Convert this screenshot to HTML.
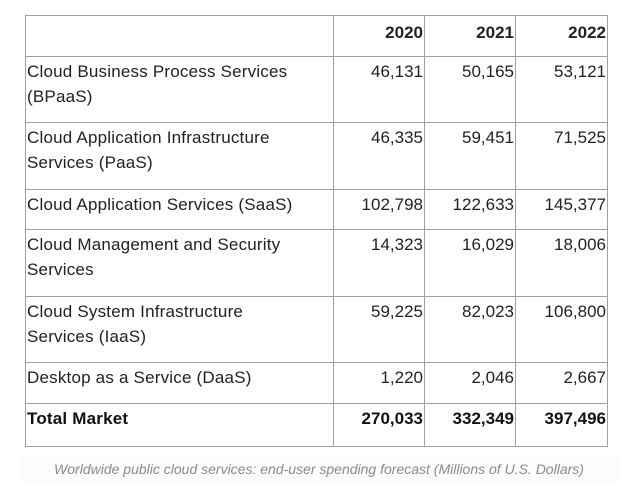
<!DOCTYPE html>
<html><head><meta charset="utf-8"><style>
body{margin:0;width:624px;height:488px;background:#fff;font-family:"Liberation Sans",sans-serif;overflow:hidden;position:relative}
table{position:absolute;left:25px;top:15px;border-collapse:collapse;width:582px;table-layout:fixed}
td{border:1px solid #a0a0a0;vertical-align:top;font-size:17px;letter-spacing:0.2px;color:#222;line-height:25px;padding:2px 1px 0 1px;white-space:nowrap}
td.n{text-align:right;padding-right:1px;letter-spacing:0}
tr.h td{font-weight:bold;font-size:17px;text-align:right;padding-top:4px;letter-spacing:0}
tr.t td{font-weight:bold;font-size:17px;color:#111}
.cap{position:absolute;left:20px;top:456px;width:598px;height:26px;text-align:center;font-style:italic;font-size:14px;color:#8a8a8a;line-height:26px;background:#fcfcfc}
</style></head><body>
<table>
<colgroup><col style="width:308px"><col style="width:91px"><col style="width:91px"><col style="width:92px"></colgroup>
<tr class="h" style="height:41px"><td></td><td>2020</td><td>2021</td><td>2022</td></tr>
<tr style="height:66px"><td>Cloud Business Process Services<br>(BPaaS)</td><td class="n">46,131</td><td class="n">50,165</td><td class="n">53,121</td></tr>
<tr style="height:67px"><td>Cloud Application Infrastructure<br>Services (PaaS)</td><td class="n">46,335</td><td class="n">59,451</td><td class="n">71,525</td></tr>
<tr style="height:40px"><td>Cloud Application Services (SaaS)</td><td class="n">102,798</td><td class="n">122,633</td><td class="n">145,377</td></tr>
<tr style="height:67px"><td>Cloud Management and Security<br>Services</td><td class="n">14,323</td><td class="n">16,029</td><td class="n">18,006</td></tr>
<tr style="height:66px"><td>Cloud System Infrastructure<br>Services (IaaS)</td><td class="n">59,225</td><td class="n">82,023</td><td class="n">106,800</td></tr>
<tr style="height:41px"><td>Desktop as a Service (DaaS)</td><td class="n">1,220</td><td class="n">2,046</td><td class="n">2,667</td></tr>
<tr class="t" style="height:43px"><td>Total Market</td><td class="n">270,033</td><td class="n">332,349</td><td class="n">397,496</td></tr>
</table>
<div class="cap">Worldwide public cloud services: end-user spending forecast (Millions of U.S. Dollars)</div>
</body></html>
